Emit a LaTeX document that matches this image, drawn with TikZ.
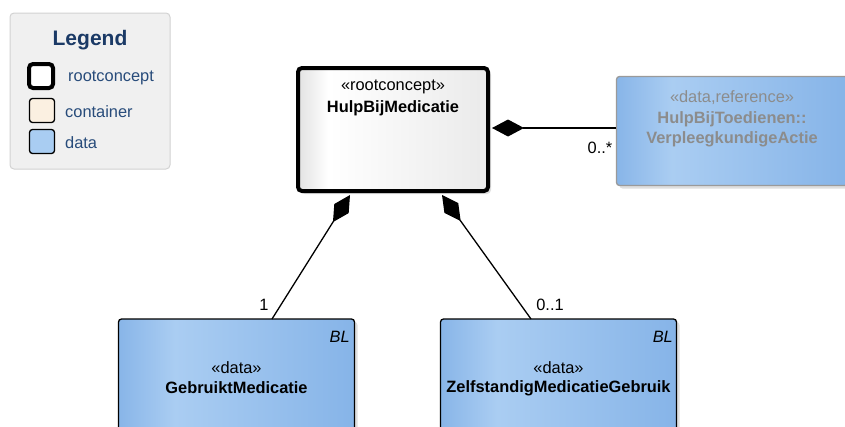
\documentclass[tikz,border=0pt]{standalone}
\usepackage{fontspec}
\setmainfont{Liberation Sans}
\usetikzlibrary{arrows.meta,shadows}
\definecolor{legendbg}{HTML}{F0F0F0}
\definecolor{legendline}{HTML}{D2D2D2}
\definecolor{legendtitle}{HTML}{1B3A66}
\definecolor{legendtext}{HTML}{274B7A}
\definecolor{containerfill}{HTML}{FBF0E1}
\definecolor{datafill}{HTML}{A9CDF2}
\definecolor{blueA}{HTML}{88B5E8}
\definecolor{blueB}{HTML}{AACDF2}
\definecolor{blueC}{HTML}{86B4E8}
\definecolor{greyA}{HTML}{E2E2E2}
\definecolor{greyC}{HTML}{EAEAEA}
\definecolor{reftext}{HTML}{8C8C8C}
\definecolor{refline}{HTML}{9A9A9A}
\pgfdeclarehorizontalshading{bluegrad}{100bp}{color(0bp)=(blueA); color(25bp)=(blueA); color(37bp)=(blueB); color(75bp)=(blueC); color(100bp)=(blueC)}
\pgfdeclarehorizontalshading{rootgrad}{100bp}{color(0bp)=(greyA); color(25bp)=(greyA); color(33bp)=(white); color(75bp)=(greyC); color(100bp)=(greyC)}
\tikzset{
  base/.style={font=\fontsize{16.4}{19}\selectfont},
  rootbox/.style={draw=black, line width=4pt, rounded corners=4pt, shading=rootgrad,
    drop shadow={shadow xshift=3pt, shadow yshift=-3pt, fill=black!25, opacity=0.5}},
  databox/.style={draw=black, line width=1.3pt, rounded corners=3pt, shading=bluegrad,
    drop shadow={shadow xshift=3pt, shadow yshift=-3pt, fill=black!25, opacity=0.5}},
  refbox/.style={draw=refline, line width=1.3pt, rounded corners=3pt, shading=bluegrad,
    drop shadow={shadow xshift=3pt, shadow yshift=-3pt, fill=black!25, opacity=0.5}},
  stereo/.style={base, inner sep=0pt},
  cname/.style={base, font=\fontsize{16.4}{19}\selectfont\bfseries, inner sep=0pt},
  reftxt/.style={text=reftext},
  mult/.style={base, inner sep=0pt},
  compos/.style={line width=1.3pt, -{Diamond[length=32pt,width=17pt]}},
  legendbox/.style={draw=legendline, fill=legendbg, line width=1pt, rounded corners=4pt},
  legenditem/.style={base, text=legendtext, inner sep=0pt, anchor=west},
}
\begin{document}
\begin{tikzpicture}[x=1pt,y=-1pt]
\useasboundingbox (0,0) rectangle (845,426);
% Legend
\node[legendbox, minimum width=160pt, minimum height=156pt] (legend) at (90,91) {};
\node[font=\fontsize{21}{24}\selectfont\bfseries, text=legendtitle, inner sep=0pt] (legendT) at (90,40) {Legend};
\node[draw=black, line width=4pt, rounded corners=4pt, fill=white, minimum width=24pt, minimum height=24pt] (swRoot) at (41,76) {};
\node[draw=black, line width=1.3pt, rounded corners=3pt, fill=containerfill, minimum width=25pt, minimum height=24pt] (swCont) at (42,110.5) {};
\node[draw=black, line width=1.3pt, rounded corners=3pt, fill=datafill, minimum width=25pt, minimum height=24pt] (swData) at (42,141.5) {};
\node[legenditem] (lRoot) at (68,78) {rootconcept};
\node[legenditem] (lCont) at (65,112) {container};
\node[legenditem] (lData) at (65,143) {data};
% Root concept
\node[rootbox, minimum width=190pt, minimum height=123pt] (root) at (393,129.5) {};
\node[stereo] (rootS) at (393,87) {«rootconcept»};
\node[cname] (rootN) at (393,108) {HulpBijMedicatie};
% Reference box
\node[refbox, minimum width=231pt, minimum height=109pt] (ref) at (732,131) {};
\node[stereo, reftxt] (refS) at (732,98) {«data,reference»};
\node[cname, reftxt] (refN1) at (732,119) {HulpBijToedienen::};
\node[cname, reftxt] (refN2) at (732,139) {VerpleegkundigeActie};
% Bottom boxes
\node[databox, minimum width=236pt, minimum height=122pt] (gm) at (236.5,380) {};
\node[base, font=\fontsize{16.4}{19}\selectfont\itshape, anchor=east, inner sep=0pt] (gmBL) at (350,337) {BL};
\node[stereo] (gmS) at (236.5,368) {«data»};
\node[cname] (gmN) at (236.5,388) {GebruiktMedicatie};
\node[databox, minimum width=236pt, minimum height=122pt] (zm) at (558.5,380) {};
\node[base, font=\fontsize{16.4}{19}\selectfont\itshape, anchor=east, inner sep=0pt] (zmBL) at (673,337) {BL};
\node[stereo] (zmS) at (558.5,368) {«data»};
\node[cname] (zmN) at (558.5,388) {ZelfstandigMedicatieGebruik};
% Connectors
\coordinate (refEnd) at (616,128);
\coordinate (rootR) at (492,128);
\coordinate (gmEnd) at (272,319);
\coordinate (rootBL) at (350,195);
\coordinate (zmEnd) at (531,319);
\coordinate (rootBR) at (442,195);
\draw[compos] (refEnd) -- (rootR);
\draw[compos] (gmEnd) -- (rootBL);
\draw[compos] (zmEnd) -- (rootBR);
\node[mult] (m1) at (600,148) {0..*};
\node[mult] (m2) at (264,305) {1};
\node[mult] (m3) at (550,305) {0..1};
\end{tikzpicture}
\end{document}
